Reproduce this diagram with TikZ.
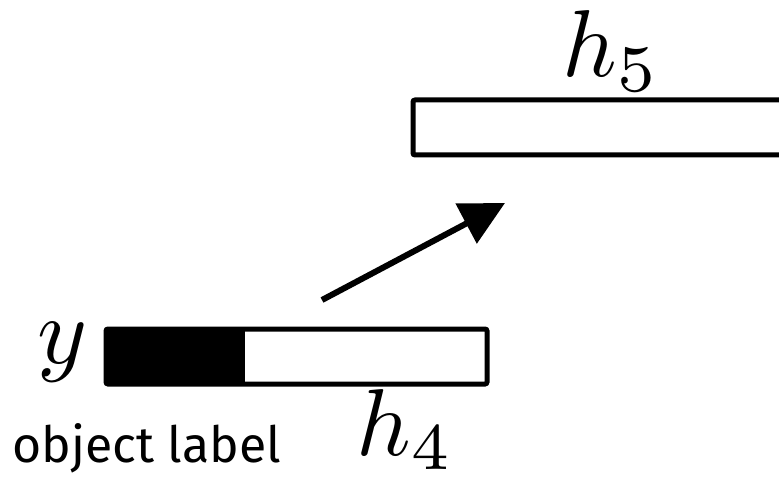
\documentclass[tikz,border=0pt]{standalone}
\usepackage{amsmath, amssymb}
\usepackage{fontspec}
\setsansfont{Fira Sans}
\usetikzlibrary{arrows.meta}

\tikzset{
    layer/.style={draw, line width=2.5pt, rounded corners=1pt, fill=white, inner sep=0pt, minimum height=27.5pt},
    onehot/.style={fill=black, inner sep=0pt, minimum height=28pt},
    bigmath/.style={scale=4.75, anchor=base, inner sep=0pt}
}

\begin{document}
\begin{tikzpicture}[x=0.5pt, y=-0.5pt, >={Triangle[length=22pt, width=22pt]}]
    \useasboundingbox (0,0) rectangle (779,480);
    \clip (0,0) rectangle (779,480);

    % Layer h5
    \node[layer, minimum width=208.5pt] (h5box) at (621.5, 127.5) {};
    \node[bigmath] (h5) at (611, 77) {$h_5$};

    % Layer h4 with object label
    \node[layer, minimum width=190.5pt] (h4box) at (296.5, 356.5) {};
    \node[onehot, minimum width=69.5pt] (label) at (175.5, 357) {};
    \node[bigmath] (h4) at (405, 455) {$h_4$};
    \node[bigmath] (y) at (62, 363) {$y$};
    \node[anchor=base west, inner sep=0pt, font=\sffamily\fontsize{25pt}{30pt}\selectfont] (objlabel) at (12, 462) {object label};

    \coordinate (from) at (322, 300);
    \coordinate (to) at (505, 203);
    \draw[->, line width=3pt] (from) -- (to);
\end{tikzpicture}
\end{document}
